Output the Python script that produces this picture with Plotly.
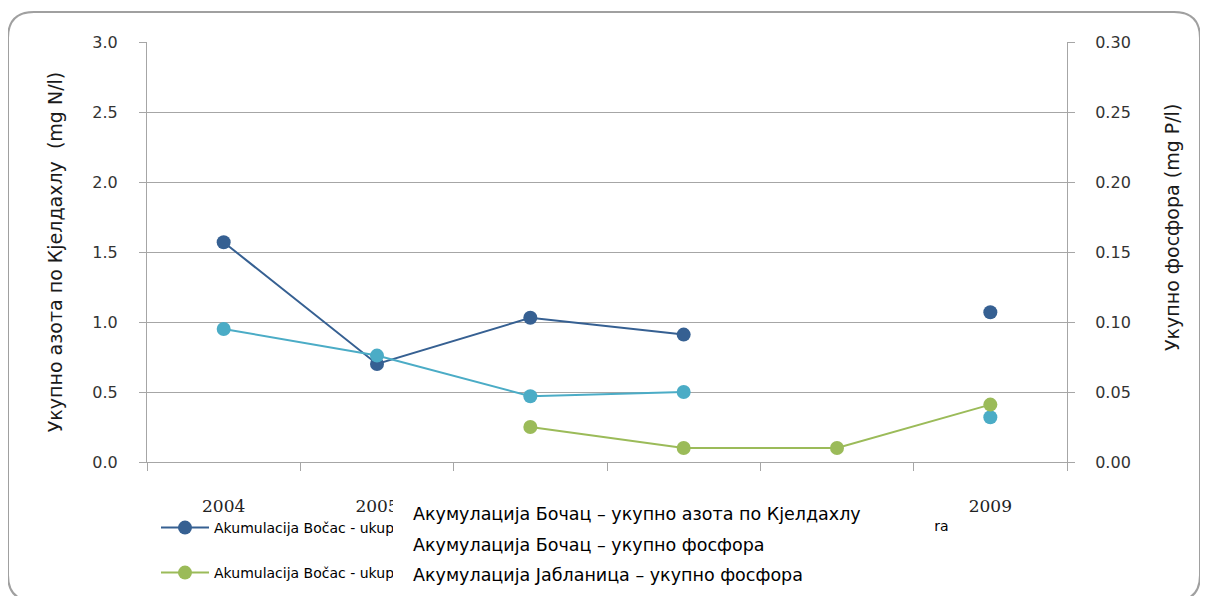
import plotly.graph_objects as go

years = ["2004", "2005", "2006", "2007", "2008", "2009"]
bocac_n = [1.57, 0.70, 1.03, 0.91, None, 1.07]          # mg N/l (left axis)
bocac_p = [0.095, 0.076, 0.047, 0.050, None, 0.032]     # mg P/l (right axis)
jablanica_p = [None, None, 0.025, 0.010, 0.010, 0.041]  # mg P/l (right axis)

legend_names = [
    "Akumulacija Bočac - ukupno azota po Kjeldahlu",
    "Akumulacija Bočac - ukupno fosfora",
    "Akumulacija Bočac - ukupno fosfora",
]
overlay_lines = [
    "Акумулација Бочац – укупно азота по Кјелдахлу",
    "Акумулација Бочац – укупно фосфора",
    "Акумулација Јабланица – укупно фосфора",
]
y1_title = "Укупно азота по Кјелдахлу  (mg N/l)"
y2_title = "Укупно фосфора (mg P/l)"

C_BLUE = "#366092"
C_CYAN = "#4bacc6"
C_GREEN = "#9bbb59"
GRID = "#a6a6a6"

# page offset of the figure (browser body margin)
OFF = 8
FW, FH = 1200, 588
# plot-area geometry in page pixels
L, R, T, B = 147, 1067, 42, 462
W, H = R - L, B - T


def px(x):
    return (x - L) / W


def py(y):
    return (B - y) / H


fig = go.Figure()
fig.add_trace(go.Scatter(x=years, y=bocac_n, name=legend_names[0], mode="lines+markers",
                         line=dict(color=C_BLUE, width=2), marker=dict(size=14, color=C_BLUE),
                         yaxis="y", legend="legend"))
fig.add_trace(go.Scatter(x=years, y=bocac_p, name=legend_names[1], mode="lines+markers",
                         line=dict(color=C_CYAN, width=2), marker=dict(size=14, color=C_CYAN),
                         yaxis="y2", legend="legend3"))
fig.add_trace(go.Scatter(x=years, y=jablanica_p, name=legend_names[2], mode="lines+markers",
                         line=dict(color=C_GREEN, width=2), marker=dict(size=14, color=C_GREEN),
                         yaxis="y2", legend="legend2"))

# rounded outer border (page pixels)
x0, y0, x1, y1, r = 8, 12, 1200, 601, 26
pts = [("M", x0 + r, y0), ("L", x1 - r, y0), ("Q", x1, y0, x1, y0 + r), ("L", x1, y1 - r),
       ("Q", x1, y1, x1 - r, y1), ("L", x0 + r, y1), ("Q", x0, y1, x0, y1 - r),
       ("L", x0, y0 + r), ("Q", x0, y0, x0 + r, y0)]
path = ""
for p in pts:
    coords = p[1:]
    segs = [f"{px(coords[i]):.5f},{py(coords[i + 1]):.5f}" for i in range(0, len(coords), 2)]
    path += p[0] + " " + " ".join(segs) + " "
path += "Z"

tickfont = dict(family="DejaVu Sans", size=16, color="#333333")
titlefont = dict(family="DejaVu Sans", size=19, color="#1a1a1a")
legfont = dict(family="DejaVu Sans", size=14, color="#000000")

leg_common = dict(orientation="h", xanchor="left", yanchor="middle", font=legfont,
                  bgcolor="rgba(0,0,0,0)", itemwidth=48)

fig.update_layout(
    width=FW, height=FH,
    margin=dict(l=L - OFF, r=FW - (R - OFF), t=T - OFF, b=FH - (B - OFF), autoexpand=False),
    paper_bgcolor="white", plot_bgcolor="white",
    shapes=[dict(type="path", path=path, xref="paper", yref="paper",
                 line=dict(color="#a0a0a0", width=2), layer="below")],
    xaxis=dict(type="category", categoryorder="array", categoryarray=years,
               range=[-0.5, 5.5], showgrid=False, zeroline=False,
               showline=True, linecolor=GRID, linewidth=1,
               ticks="outside", tickson="boundaries", ticklen=8, tickcolor=GRID,
               tickfont=dict(family="DejaVu Serif", size=17, color="#222222"),
               ticklabelstandoff=29),
    yaxis=dict(range=[0, 3.0], dtick=0.5, tickformat=".1f", showgrid=True,
               gridcolor=GRID, gridwidth=1, zeroline=False,
               showline=True, linecolor=GRID, linewidth=1,
               ticks="outside", ticklen=7, tickcolor=GRID, tickfont=tickfont,
               ticklabelstandoff=18,
               title=dict(text=y1_title, font=titlefont, standoff=24)),
    yaxis2=dict(range=[0, 0.30], dtick=0.05, tickformat=".2f", overlaying="y", side="right",
                showgrid=False, zeroline=False, showline=True, linecolor=GRID, linewidth=1,
                ticks="outside", ticklen=7, tickcolor=GRID, tickfont=tickfont,
                ticklabelstandoff=17),
    legend=dict(x=px(156), y=py(528), **leg_common),
    legend3=dict(x=px(640), y=py(526), **leg_common),
    legend2=dict(x=px(156), y=py(573), **leg_common),
    showlegend=True,
)

annotations = [
    dict(text=y2_title, xref="paper", yref="paper", x=px(1172), y=py(228),
         xanchor="center", yanchor="middle", textangle=-90, showarrow=False, font=titlefont),
    dict(text=" ", xref="paper", yref="paper", x=px(393), y=py(492),
         xanchor="left", yanchor="top", showarrow=False, bgcolor="white",
         width=542, height=110, borderwidth=0, borderpad=0),
]
for yy, txt in zip([514, 545, 575], overlay_lines):
    annotations.append(dict(text=txt, xref="paper", yref="paper", x=px(411), y=py(yy),
                            xanchor="left", yanchor="middle", showarrow=False,
                            font=dict(family="DejaVu Sans", size=17.5, color="#000000")))
fig.update_layout(annotations=annotations)

fig.write_html("out.html")
